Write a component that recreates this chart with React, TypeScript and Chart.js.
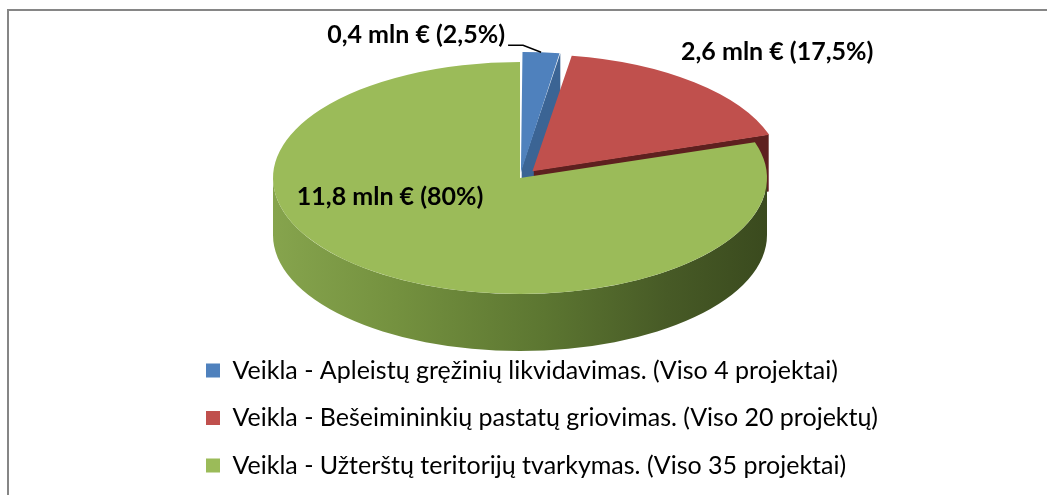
import React, { useEffect, useRef } from 'react';
import { Chart, registerables } from 'chart.js';

Chart.register(...registerables);

// ---- data ----
const categories = [
  'Veikla - Apleistų gręžinių likvidavimas. (Viso 4 projektai)',
  'Veikla - Bešeimininkių pastatų griovimas. (Viso 20 projektų)',
  'Veikla - Užterštų teritorijų tvarkymas. (Viso 35 projektai)',
];
const amountsMln = [0.4, 2.6, 11.8];
const sharesPct = [2.5, 17.5, 80];
const valueLabels = ['0,4 mln € (2,5%)', '2,6 mln € (17,5%)', '11,8 mln € (80%)'];
const topColors = ['#4F81BD', '#C0504D', '#9BBB59'];
const sideColors = ['#3B6494', '#5E201F', '#5F7A33'];
const explode = [22, 36, 0];

// ---- 3D look ----
const FONT = 'Lato';
const SX = 247 / 116; // horizontal stretch of the pie (ellipse)
const DEPTH = 57;

function arcShift(arc: any) {
  const offset = (arc.options.offset || 0) / 4;
  const circ = arc.endAngle - arc.startAngle;
  const fix = 1 - Math.sin(Math.min(Math.PI, circ));
  const half = (arc.startAngle + arc.endAngle) / 2;
  const m = offset + offset * fix;
  return { dx: Math.cos(half) * m, dy: Math.sin(half) * m, half };
}

const pie3d = {
  id: 'pie3d',
  beforeDatasetsDraw(chart: any) {
    const ctx = chart.ctx as CanvasRenderingContext2D;
    const arcs = chart.getDatasetMeta(0).data as any[];
    if (!arcs.length) return;
    const cx = arcs[0].x;
    ctx.save();
    ctx.translate(cx, 0);
    ctx.scale(SX, 1);
    ctx.translate(-cx, 0);

    // radial cut faces
    arcs.forEach((arc, i) => {
      const { dx, dy } = arcShift(arc);
      const X = arc.x + dx;
      const Y = arc.y + dy;
      const r = arc.outerRadius;
      const edges: [number, number][] = [
        [arc.startAngle, -1],
        [arc.endAngle, 1],
      ];
      edges.forEach(([a, side]) => {
        const ny = Math.sin(a + (side * Math.PI) / 2);
        if (ny <= 0.01) return;
        const ex = X + r * Math.cos(a);
        const ey = Y + r * Math.sin(a);
        ctx.beginPath();
        ctx.moveTo(X, Y);
        ctx.lineTo(ex, ey);
        ctx.lineTo(ex, ey + DEPTH);
        ctx.lineTo(X, Y + DEPTH);
        ctx.closePath();
        ctx.fillStyle = sideColors[i];
        ctx.fill();
      });
    });

    // outer walls (front half only)
    arcs.forEach((arc, i) => {
      const { dx, dy } = arcShift(arc);
      const X = arc.x + dx;
      const Y = arc.y + dy;
      const r = arc.outerRadius;
      for (let k = -1; k <= 1; k++) {
        const lo = Math.max(arc.startAngle, 2 * Math.PI * k);
        const hi = Math.min(arc.endAngle, Math.PI + 2 * Math.PI * k);
        if (hi <= lo) continue;
        const g = ctx.createLinearGradient(X - r, 0, X + r, 0);
        if (i === 2) {
          g.addColorStop(0, '#86A44D');
          g.addColorStop(0.25, '#74913F');
          g.addColorStop(0.55, '#5C7631');
          g.addColorStop(0.8, '#475A26');
          g.addColorStop(1, '#3A4A1E');
        } else {
          g.addColorStop(0, sideColors[i]);
          g.addColorStop(1, sideColors[i]);
        }
        ctx.beginPath();
        ctx.arc(X, Y, r, lo, hi, false);
        ctx.lineTo(X + r * Math.cos(hi), Y + r * Math.sin(hi) + DEPTH);
        ctx.arc(X, Y + DEPTH, r, hi, lo, true);
        ctx.closePath();
        ctx.fillStyle = g;
        ctx.fill();
      }
    });
  },
  afterDatasetsDraw(chart: any) {
    chart.ctx.restore();
  },
  afterDraw(chart: any) {
    const ctx = chart.ctx as CanvasRenderingContext2D;
    const arcs = chart.getDatasetMeta(0).data as any[];
    if (!arcs.length) return;
    const cx = arcs[0].x;
    const cy = arcs[0].y;
    const toScreen = (px: number, py: number) => [cx + (px - cx) * SX, py];
    const rim = (arc: any) => {
      const { dx, dy, half } = arcShift(arc);
      const r = arc.outerRadius;
      return toScreen(arc.x + dx + r * Math.cos(half), arc.y + dy + r * Math.sin(half));
    };
    ctx.save();
    ctx.fillStyle = '#000';
    ctx.strokeStyle = '#000';
    ctx.font = `bold 25px ${FONT}`;

    // blue label with leader line
    const [bx, by] = rim(arcs[0]);
    const p1x = bx - 18, p1y = by - 7;
    const p2x = p1x - 15;
    ctx.lineWidth = 1.5;
    ctx.beginPath();
    ctx.moveTo(bx, by);
    ctx.lineTo(p1x, p1y);
    ctx.lineTo(p2x, p1y);
    ctx.stroke();
    ctx.textAlign = 'right';
    ctx.textBaseline = 'alphabetic';
    ctx.fillText(valueLabels[0], p2x - 3, p1y - 2);

    // red label
    const [rx, ry] = rim(arcs[1]);
    ctx.textAlign = 'center';
    ctx.textBaseline = 'middle';
    ctx.fillText(valueLabels[1], rx + 83, ry - 30);

    // green label (inside)
    const rr = arcs[2].outerRadius;
    ctx.fillText(valueLabels[2], cx - 0.526 * rr * SX, cy + 0.164 * rr);
    ctx.restore();
  },
};

export default function App() {
  const ref = useRef<HTMLCanvasElement | null>(null);

  useEffect(() => {
    if (!ref.current) return;
    const chart = new Chart(ref.current, {
      type: 'pie',
      data: {
        labels: categories,
        datasets: [
          {
            data: sharesPct,
            backgroundColor: topColors,
            borderWidth: 0,
            offset: explode,
            clip: false,
          } as any,
        ],
      },
      options: {
        responsive: false,
        animation: false,
        events: [],
        radius: 116,
        layout: { padding: { left: 183.5, right: 150, top: 20.5, bottom: 7 } },
        plugins: {
          tooltip: { enabled: false },
          // invisible spacer on the right so the pie sits where it does in the original
          title: {
            display: true,
            position: 'right',
            text: ' ',
            font: { size: 10, lineHeight: 1.2 },
            padding: 14.25,
          },
          legend: {
            position: 'bottom',
            align: 'start',
            labels: {
              boxWidth: 14,
              boxHeight: 14,
              padding: 22.5,
              color: '#000',
              font: { family: FONT, size: 25 },
            },
          },
        },
      } as any,
      plugins: [pie3d],
    });
    return () => chart.destroy();
  }, []);

  return (
    <div
      style={{
        position: 'fixed',
        left: 0,
        top: 0,
        width: 1047,
        height: 495,
        overflow: 'hidden',
        background: '#fff',
      }}
    >
      <div
        style={{
          position: 'absolute',
          left: 7,
          top: 9,
          width: 1100,
          height: 600,
          border: '2px solid #868686',
          boxSizing: 'border-box',
        }}
      />
      <canvas
        ref={ref}
        width={1047}
        height={495}
        style={{ position: 'absolute', left: 0, top: 0, width: 1047, height: 495 }}
      />
    </div>
  );
}
